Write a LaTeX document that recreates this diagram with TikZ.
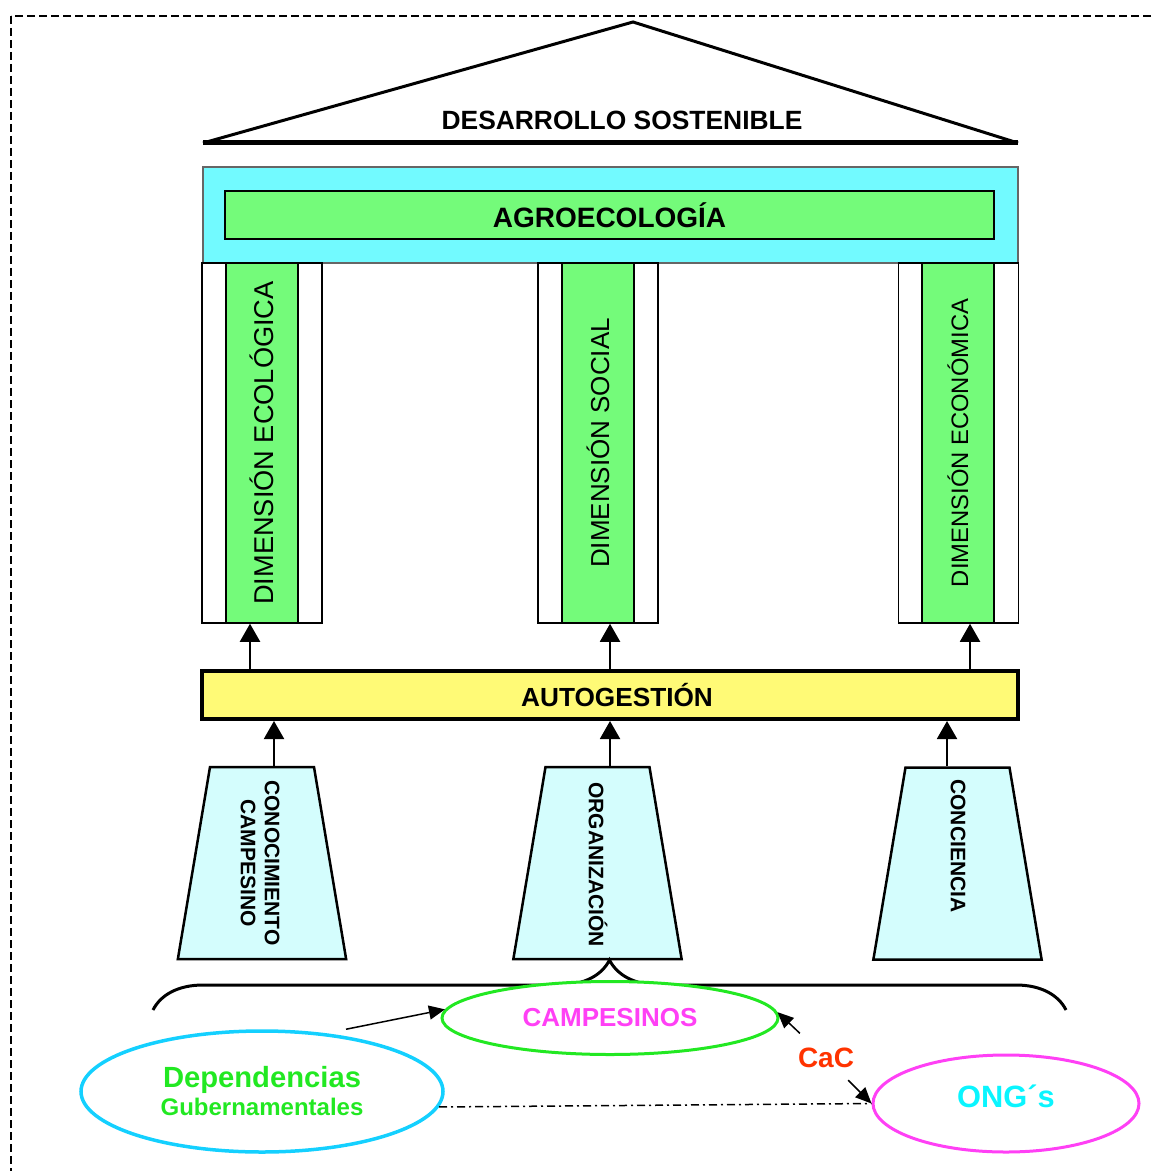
\documentclass[tikz,border=0pt]{standalone}
\usepackage{fontspec}
\setmainfont{Liberation Sans}
\usetikzlibrary{shapes.geometric}
\usetikzlibrary{decorations.pathreplacing}
\usetikzlibrary{arrows.meta}
\definecolor{techo}{RGB}{114,250,255}
\definecolor{verde}{RGB}{116,251,122}
\definecolor{amarillo}{RGB}{255,250,118}
\definecolor{celeste}{RGB}{212,253,253}
\definecolor{verdecl}{RGB}{34,232,34}
\definecolor{rosa}{RGB}{255,64,245}
\definecolor{azul}{RGB}{20,208,255}
\definecolor{rojo}{RGB}{255,51,0}
\definecolor{cian}{RGB}{10,245,255}

\begin{document}
\begin{tikzpicture}[x=0.5pt,y=-0.5pt,
  sube/.style={line width=1pt,-{Triangle[length=9pt,width=10pt]}},
  flecha/.style={line width=0.75pt,-{Triangle[length=8pt,width=7pt]}},
  columna/.style={draw,line width=0.75pt,fill=white,minimum width=60pt,minimum height=180pt,inner sep=0pt},
  dimension/.style={draw,line width=1pt,fill=verde,rotate=90,minimum width=180pt,minimum height=36pt,inner sep=0pt,font=\fontsize{13}{15}\selectfont},
  base/.style={trapezium,draw,line width=1.25pt,fill=celeste,trapezium angle=80.5,inner xsep=26pt,inner ysep=48pt},
  vertical/.style={rotate=-90,anchor=west,inner sep=0pt,align=center,font=\bfseries\fontsize{10.5}{12}\selectfont}]
\clip (0,0) rectangle (1151,1171);
\draw[line width=0.75pt,dash pattern=on 4pt off 2pt] (11,16) rectangle (1165,1190);
\draw[line width=1.5pt,line join=miter] (203,143) -- (633,22) -- (1018,143);
\draw[line width=2.5pt] (203,143) -- (1018,143);
\node[font=\bfseries\fontsize{13.2}{15}\selectfont] (ds) at (622,120) {DESARROLLO SOSTENIBLE};
\node[draw=black!60,line width=0.75pt,fill=techo,minimum width=407.5pt,minimum height=48pt,inner sep=0pt] (techo) at (610.5,215) {};
\node[draw,line width=1.25pt,fill=verde,minimum width=384.5pt,minimum height=24pt,inner sep=0pt,font=\bfseries\fontsize{14}{16}\selectfont] (agro) at (609.5,215) {AGROECOLOGÍA};
\node[columna] (colA) at (262,443) {};
\node[columna] (colB) at (598,443) {};
\node[columna] (colC) at (958.5,443) {};
\node[dimension,font=\fontsize{13.6}{15}\selectfont] (eco) at (262,443) {DIMENSIÓN ECOLÓGICA};
\node[dimension] (soc) at (598,443) {DIMENSIÓN SOCIAL};
\node[dimension,font=\fontsize{11.9}{14}\selectfont] (econ) at (958,443) {DIMENSIÓN ECONÓMICA};
\node[draw,line width=2pt,fill=amarillo,minimum width=408pt,minimum height=24pt,inner sep=0pt,font=\bfseries\fontsize{13.1}{15}\selectfont] (auto) at (610,695) {\hspace*{7pt}AUTOGESTIÓN};
\coordinate (pA) at ([xshift=-6pt]colA.south);
\coordinate (pB) at ([xshift=6pt]colB.south);
\coordinate (pC) at ([xshift=5.75pt]colC.south);
\draw[sube] (pA |- auto.north) -- (pA);
\draw[sube] (pB |- auto.north) -- (pB);
\draw[sube] (pC |- auto.north) -- (pC);
\node[base] (trapA) at (262,863) {};
\node[base] (trapB) at (597.5,863) {};
\node[base] (trapC) at (957.5,863.5) {};
\node[vertical] (conoc) at (260,780) {CONOCIMIENTO\\CAMPESINO};
\node[vertical] (orga) at (598,782) {ORGANIZACIÓN};
\node[vertical] (conc) at (958,779) {CONCIENCIA};
\coordinate (qA) at ([xshift=6pt]trapA.north);
\coordinate (qB) at ([xshift=6.25pt]trapB.north);
\coordinate (qC) at ([xshift=-5.25pt]trapC.north);
\draw[sube] (qA) -- (qA |- auto.south);
\draw[sube] (qB) -- (qB |- auto.south);
\draw[sube] (qC) -- (qC |- auto.south);
\draw[decorate,decoration={brace,amplitude=25pt},line width=1.5pt] (153,1010) -- (1066,1010);
\node[ellipse,draw=azul,line width=1.75pt,minimum width=181pt,minimum height=60.5pt,inner sep=0pt,align=center,text=verdecl,font=\bfseries\fontsize{14.6}{14}\selectfont] (dep) at (262,1091.5) {Dependencias\\{\fontsize{12}{14}\selectfont Gubernamentales}};
\node[ellipse,draw=verdecl,fill=white,line width=1.5pt,minimum width=168pt,minimum height=36.5pt,inner sep=0pt,text=rosa,font=\bfseries\fontsize{13}{15}\selectfont] (camp) at (610,1018) {CAMPESINOS};
\node[ellipse,draw=rosa,line width=1.5pt,minimum width=133pt,minimum height=48.5pt,inner sep=0pt,text height=11pt,text depth=7.5pt,text=cian,font=\bfseries\fontsize{15.4}{17}\selectfont] (ong) at (1006,1103.5) {ONG´s};
\node[text=rojo,font=\bfseries\fontsize{14}{16}\selectfont,inner sep=1pt] (cac) at (826,1058) {CaC};
\draw[flecha] ([xshift=42pt]dep.north) -- (camp.177);
\draw[flecha,shorten <=9pt] (cac) -- (camp.2);
\draw[flecha,shorten <=7pt] (cac) -- (ong.west);
\draw[line width=0.75pt,dash pattern=on 4pt off 2pt on 1pt off 2pt] (dep.-5) -- (ong.west);
\end{tikzpicture}
\end{document}
